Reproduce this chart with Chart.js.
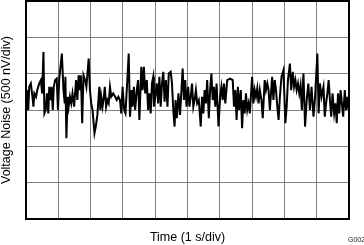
<!DOCTYPE html>
<html><head><meta charset="utf-8">
<script src="https://cdn.jsdelivr.net/npm/chart.js@4.4.1/dist/chart.umd.min.js"></script>
<style>html,body{margin:0;padding:0;background:#fff}#wrap{width:364px;height:245px}</style>
</head><body><div id="wrap"><canvas id="c" width="364" height="245"></canvas></div>
<script>
const xTitle = "Time (1 s/div)";
const yTitle = "Voltage Noise (500 nV/div)";
const figureId = "G002";
const timeS = [0.00,0.04,0.07,0.10,0.15,0.20,0.23,0.26,0.31,0.35,0.41,0.46,0.50,0.54,0.57,0.61,0.65,0.69,0.72,0.75,0.79,0.83,0.86,0.90,0.95,0.99,1.03,1.11,1.16,1.20,1.22,1.25,1.29,1.32,1.36,1.40,1.44,1.49,1.55,1.59,1.63,1.67,1.70,1.74,1.78,1.83,1.87,1.94,1.98,2.02,2.06,2.12,2.16,2.21,2.27,2.30,2.33,2.37,2.41,2.44,2.48,2.52,2.56,2.60,2.64,2.70,2.76,2.81,2.86,2.91,2.95,2.99,3.04,3.08,3.18,3.22,3.27,3.30,3.34,3.38,3.43,3.47,3.51,3.57,3.61,3.65,3.69,3.74,3.78,3.82,3.86,3.90,3.94,3.96,4.00,4.05,4.09,4.13,4.17,4.21,4.25,4.29,4.33,4.38,4.42,4.48,4.52,4.56,4.60,4.63,4.67,4.72,4.77,4.85,4.89,4.93,4.97,5.02,5.06,5.10,5.14,5.18,5.22,5.26,5.30,5.35,5.41,5.45,5.49,5.53,5.57,5.61,5.66,5.70,5.74,5.78,5.82,5.86,5.90,5.96,6.01,6.05,6.09,6.13,6.17,6.23,6.32,6.40,6.44,6.48,6.52,6.56,6.60,6.65,6.69,6.73,6.77,6.81,6.85,6.89,6.93,7.00,7.04,7.08,7.12,7.16,7.20,7.24,7.29,7.33,7.39,7.43,7.47,7.51,7.55,7.62,7.66,7.70,7.74,7.78,7.82,7.86,7.91,7.97,8.03,8.07,8.11,8.17,8.21,8.26,8.30,8.34,8.38,8.42,8.46,8.50,8.54,8.59,8.64,8.69,8.74,8.79,8.84,8.90,8.95,9.02,9.06,9.10,9.15,9.21,9.25,9.29,9.33,9.37,9.41,9.45,9.49,9.54,9.58,9.62,9.66,9.70,9.74,9.78,9.82,9.87,9.91,9.95,9.99];
const noiseNV = [-46,274,0,319,365,182,46,228,182,274,365,411,228,798,-46,0,228,-46,319,137,319,0,319,411,433,0,433,776,274,91,456,-388,182,46,182,91,228,46,411,137,479,274,479,-182,479,411,319,707,274,91,0,-319,-228,-68,319,0,182,46,182,319,46,137,91,319,182,228,182,137,182,137,-46,319,0,-46,776,-91,274,46,319,0,274,411,-137,593,274,593,228,411,0,228,-46,365,456,46,182,365,91,456,46,365,525,114,411,46,502,525,365,0,-228,137,-114,228,-68,570,137,411,46,319,46,182,365,46,137,274,91,137,-228,182,-46,274,91,411,-114,274,502,137,319,46,365,-228,182,319,137,365,91,411,433,411,46,274,-137,319,0,274,-251,137,-46,228,0,91,-46,456,91,274,182,297,91,274,137,-114,411,274,365,274,0,456,137,411,274,46,-137,182,456,547,-182,46,411,639,274,525,319,411,274,365,228,342,0,502,-228,137,365,0,319,-91,182,776,-46,365,182,319,-91,91,228,411,137,-91,228,-46,91,-182,228,-46,274,91,-91,274,0,182,0];
const xRange = [0, 10];      // seconds, 1 s/div
const yRange = [-1500, 1500]; // nV, 500 nV/div

const points = timeS.map((t, i) => ({x: t, y: noiseNV[i]}));

const frame = {
  id: 'frame',
  afterDraw(chart) {
    const {ctx, chartArea: a} = chart;
    ctx.save();
    ctx.strokeStyle = '#000';
    ctx.lineWidth = 2;
    ctx.strokeRect(a.left, a.top, a.right - a.left, a.bottom - a.top);
    ctx.fillStyle = '#000';
    ctx.font = "12.5px 'Liberation Sans', Arial, sans-serif";
    ctx.textAlign = 'center';
    ctx.textBaseline = 'middle';
    ctx.fillText(xTitle, (a.left + a.right) / 2, 238);
    ctx.save();
    ctx.translate(7, (a.top + a.bottom) / 2);
    ctx.rotate(-Math.PI / 2);
    ctx.fillText(yTitle, 0, 0);
    ctx.restore();
    ctx.font = "7px 'Liberation Sans', Arial, sans-serif";
    ctx.textAlign = 'left';
    ctx.fillStyle = '#222';
    ctx.fillText(figureId, 348, 240);
    ctx.restore();
  }
};

new Chart(document.getElementById('c'), {
  type: 'line',
  data: { datasets: [{ data: points, borderColor: '#000', borderWidth: 2, pointRadius: 0, tension: 0, fill: false }] },
  options: {
    responsive: false, animation: false, devicePixelRatio: 1,
    layout: { padding: { left: 26, right: 15, top: 1, bottom: 26 } },
    plugins: { legend: { display: false }, tooltip: { enabled: false } },
    scales: {
      x: { type: 'linear', min: xRange[0], max: xRange[1],
           ticks: { display: false, stepSize: 1 },
           grid: { color: '#808080', lineWidth: 1, drawTicks: false },
           border: { display: false } },
      y: { type: 'linear', min: yRange[0], max: yRange[1],
           ticks: { display: false, stepSize: 500 },
           grid: { color: '#808080', lineWidth: 1, drawTicks: false },
           border: { display: false } }
    }
  },
  plugins: [frame]
});
</script></body></html>
